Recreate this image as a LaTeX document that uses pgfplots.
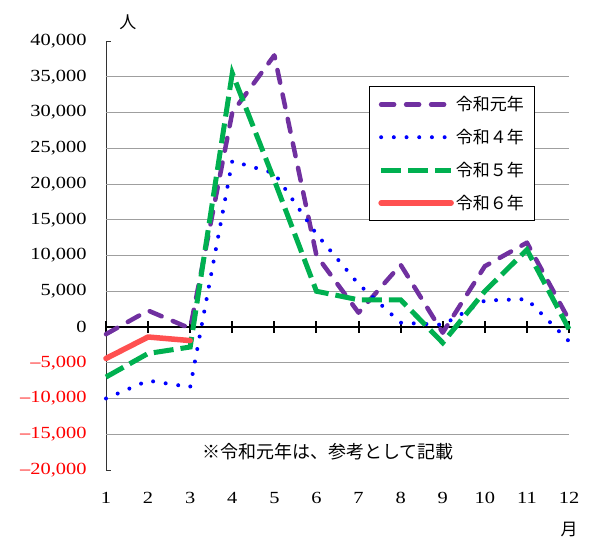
\documentclass[border=0pt]{standalone}
\usepackage{pgfplots}
\pgfplotsset{compat=1.18}
\usepackage{fontspec}
\newfontfamily\jp{Noto Sans CJK JP}
\newfontfamily\numfont[FakeStretch=1.2]{Liberation Serif}
\definecolor{cpurple}{HTML}{7030A0}
\definecolor{cblue}{HTML}{0000FF}
\definecolor{cgreen}{HTML}{00B050}
\definecolor{cred}{HTML}{FF5050}
\begin{document}
\begin{tikzpicture}
\begin{axis}[
  scale only axis, width=463pt, height=429pt,
  xmin=1, xmax=12, ymin=-20000, ymax=40000,
  clip=false,
  scaled y ticks=false,
  axis y line*=left, axis x line*=bottom,
  x axis line style={draw=none},
  y axis line style={black!80, line width=0.9pt},
  xtick={1,...,12},
  xtick style={draw=none},
  xticklabel style={font=\numfont\fontsize{17}{17}\selectfont, yshift=-19pt},
  xticklabels={1,2,3,4,5,6,7,8,9,10,11,12},
  ytick={-20000,-15000,-10000,-5000,0,5000,10000,15000,20000,25000,30000,35000,40000},
  yticklabels={\textcolor{red}{–20,000},\textcolor{red}{–15,000},\textcolor{red}{–10,000},\textcolor{red}{–5,000},0,{5,000},{10,000},{15,000},{20,000},{25,000},{30,000},{35,000},{40,000}},
  yticklabel style={font=\numfont\fontsize{17}{17}\selectfont, xshift=-16pt},
  tick align=inside,
  ytick style={black!80, line width=0.9pt},
  major tick length=5pt,
  legend image code/.code={\draw[#1] (0pt,0pt) -- (70pt,0pt);},
  legend cell align=left,
  legend style={at={(rel axis cs:0.568,0.895)}, anchor=north west,
    draw=black, line width=0.8pt, font=\jp\fontsize{17}{17}\selectfont,
    row sep=13pt, inner xsep=9pt, inner ysep=8pt},
]
\pgfplotsinvokeforeach{-15000,-10000,-5000,5000,10000,15000,20000,25000,30000,35000}{
  \draw[gray!75, line width=0.9pt] (axis cs:1,#1) -- (axis cs:12,#1);
}
\draw[black, line width=2.5pt] (axis cs:1,0) -- (axis cs:12,0);
\pgfplotsinvokeforeach{1,2,3,4,5,6,7,8,9,10,11,12}{
  \draw[black, line width=2pt] ([yshift=-6pt]axis cs:#1,0) -- ([yshift=6pt]axis cs:#1,0);
}
\addplot[cpurple, line width=4.5pt, line cap=round, line join=round, dash pattern=on 13pt off 12pt]
  coordinates {(1,-1000)(2,2300)(3,-200)(4,30000)(5,38000)(6,10000)(7,2000)(8,8700)(9,-800)(10,8500)(11,11800)(12,1000)};
\addlegendentry{令和元年}
\addplot[cblue, line width=4pt, line cap=round, dash pattern=on 0pt off 12.7pt]
  coordinates {(1,-10000)(2,-7500)(3,-8400)(4,23200)(5,21500)(6,13000)(7,6000)(8,600)(9,300)(10,3700)(11,3900)(12,-2000)};
\addlegendentry{令和４年}
\addplot[cgreen, line width=5pt, dash pattern=on 20pt off 7pt]
  coordinates {(1,-7000)(2,-3700)(3,-2800)(4,35500)(5,20500)(6,5000)(7,3800)(8,3800)(9,-2200)(10,5000)(11,10800)(12,-300)};
\addlegendentry{令和５年}
\addplot[cred, line width=5.5pt, line cap=round, line join=round]
  coordinates {(1,-4400)(2,-1400)(3,-1900)};
\addlegendentry{令和６年}
\node[anchor=west, font=\jp\fontsize{18}{18}\selectfont] at (axis cs:3.2,-17500) {※令和元年は、参考として記載};
\node[font=\jp\fontsize{17}{17}\selectfont] at ([xshift=22pt,yshift=19pt]rel axis cs:0,1) {人};
\node[font=\jp\fontsize{17}{17}\selectfont] at ([yshift=-60pt]rel axis cs:1,0) {月};
\coordinate (ll) at (rel axis cs:0,0);
\coordinate (ur) at (rel axis cs:1,1);
\end{axis}
\path ([xshift=-106pt,yshift=-78pt]ll) -- ([xshift=31pt,yshift=41pt]ur);
\end{tikzpicture}
\end{document}
